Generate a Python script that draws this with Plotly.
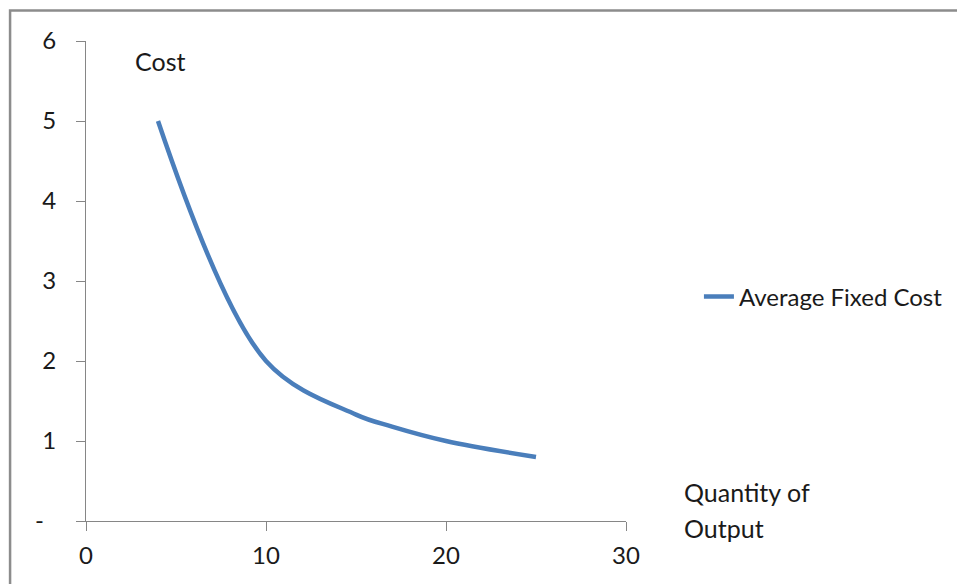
import plotly.graph_objects as go

# Average fixed cost schedule
quantity = [4, 10, 15, 17, 20, 25]
avg_fixed_cost = [5, 2, 1.33, 1.18, 1, 0.8]

x_ticks = [0, 10, 20, 30]
y_ticks = [0, 1, 2, 3, 4, 5, 6]
y_tick_text = ["-\u00a0\u00a0", "1", "2", "3", "4", "5", "6"]

FONT = "Lato, 'Open Sans', sans-serif"
FONT_SIZE = 24
AXIS_GREY = "#868686"
TEXT = "#1a1a1a"

# plot area in pixels
L, R, T, B = 85.5, 626, 41, 521


def px_x(p):
    return (p - L) / (R - L)


def px_y(p):
    return (B - p) / (B - T)


fig = go.Figure()
fig.add_trace(go.Scatter(
    x=quantity,
    y=avg_fixed_cost,
    mode="lines",
    name="Average Fixed Cost",
    line=dict(color="#4A7EBB", width=4.5, shape="spline", smoothing=1.0),
))

text_font = dict(family=FONT, size=FONT_SIZE, color=TEXT)
label_font = dict(family=FONT, size=25, color=TEXT)

fig.update_layout(
    width=957,
    height=584,
    margin=dict(l=L, r=957 - R, t=T, b=584 - B, autoexpand=False),
    paper_bgcolor="white",
    plot_bgcolor="white",
    font=text_font,
    showlegend=True,
    legend=dict(
        x=px_x(699), y=px_y(297), xanchor="left", yanchor="middle",
        bgcolor="rgba(0,0,0,0)", borderwidth=0,
        font=text_font,
    ),
    xaxis=dict(
        range=[0, 30],
        tickvals=x_ticks,
        ticks="outside", ticklen=9, tickcolor=AXIS_GREY, tickwidth=1,
        showline=True, linecolor=AXIS_GREY, linewidth=1,
        showgrid=False, zeroline=False,
        tickfont=text_font,
        ticklabelstandoff=4,
    ),
    yaxis=dict(
        range=[0, 6],
        tickvals=y_ticks,
        ticktext=y_tick_text,
        ticks="outside", ticklen=9, tickcolor=AXIS_GREY, tickwidth=1,
        showline=True, linecolor=AXIS_GREY, linewidth=1,
        showgrid=False, zeroline=False,
        tickfont=text_font,
        ticklabelstandoff=15,
    ),
    annotations=[
        dict(text="Cost", xref="paper", yref="paper",
             x=px_x(133), y=px_y(61),
             xanchor="left", yanchor="middle", showarrow=False,
             font=label_font),
        dict(text="Quantity of", xref="paper", yref="paper",
             x=px_x(682), y=px_y(492),
             xanchor="left", yanchor="middle", showarrow=False,
             font=label_font),
        dict(text="Output", xref="paper", yref="paper",
             x=px_x(682), y=px_y(528),
             xanchor="left", yanchor="middle", showarrow=False,
             font=label_font),
    ],
    shapes=[
        # chart-area frame
        dict(type="rect", xref="paper", yref="paper",
             x0=px_x(9.5), y0=-0.5, x1=2.0, y1=px_y(10.5),
             line=dict(color="#8C8C8C", width=2.5), layer="below"),
    ],
)

fig.write_html("out.html")
